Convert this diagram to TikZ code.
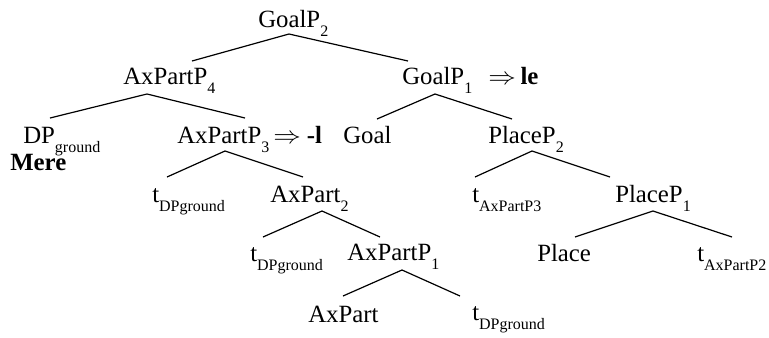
\documentclass[tikz,border=0pt]{standalone}
\usepackage{fontspec}
\setmainfont{Liberation Serif}
\newcommand\sbs[1]{\raisebox{-6.75pt}{\fontsize{12}{12}\selectfont #1}}
\newcommand\impl{\scalebox{1.2}[1.05]{$\Rightarrow$}}
\begin{document}
\begin{tikzpicture}[x=0.75pt,y=-0.75pt,
  lab/.style={anchor=base west,inner sep=0pt,font=\fontsize{18.6}{22}\selectfont},
  edge/.style={line width=0.9pt}]
\useasboundingbox (0,0) rectangle (769,337);
% row 1
\node[lab] (goalp2) at (258,27) {GoalP\sbs{2}};
% row 2
\node[lab] (axpartp4) at (123,84) {AxPartP\sbs{4}};
\node[lab] (goalp1) at (402,84) {GoalP\sbs{1}};
\node[lab] (le) at (488,84) {\impl\hspace{3.5pt}\textbf{le}};
% row 3
\node[lab] (dp) at (23,143) {DP\sbs{ground}};
\node[lab] (mere) at (10,170) {\textbf{Mere}};
\node[lab] (axpartp3) at (177,143) {AxPartP\sbs{3}};
\node[lab] (l) at (273,143) {\impl\hspace{4.5pt}\textbf{-l}};
\node[lab] (goal) at (343,143) {Goal};
\node[lab] (placep2) at (488,143) {PlaceP\sbs{2}};
% row 4
\node[lab] (t1) at (152,202) {t\sbs{DPground}};
\node[lab] (axpart2) at (270,202) {AxPart\sbs{2}};
\node[lab] (t3) at (472,202) {t\sbs{AxPartP3}};
\node[lab] (placep1) at (615,202) {PlaceP\sbs{1}};
% row 5
\node[lab] (t2) at (250,261) {t\sbs{DPground}};
\node[lab] (axpartp1) at (347,260) {AxPartP\sbs{1}};
\node[lab] (place) at (537,261) {Place};
\node[lab] (t4) at (697,261) {t\sbs{AxPartP2}};
% row 6
\node[lab] (axpart) at (308,322) {AxPart};
\node[lab] (t5) at (472,320) {t\sbs{DPground}};
% attachment points
\coordinate (goalp2-a) at (289,34);
\coordinate (axpartp4-t) at (192,61);
\coordinate (goalp1-t) at (408,61);
\coordinate (axpartp4-a) at (147,94);
\coordinate (dp-t) at (50,118);
\coordinate (axpartp3-t) at (245,118);
\coordinate (goalp1-a) at (435,94);
\coordinate (goal-t) at (377,119);
\coordinate (placep2-t) at (512,119);
\coordinate (axpartp3-a) at (225,151);
\coordinate (t1-t) at (167,177);
\coordinate (axpart2-t) at (303,177);
\coordinate (placep2-a) at (532,151);
\coordinate (t3-t) at (475,177);
\coordinate (placep1-t) at (610,177);
\coordinate (axpart2-a) at (322,211);
\coordinate (t2-t) at (263,237);
\coordinate (axpartp1-t) at (380,237);
\coordinate (placep1-a) at (653,211);
\coordinate (place-t) at (575,237);
\coordinate (t4-t) at (732,237);
\coordinate (axpartp1-a) at (402,270);
\coordinate (axpart-t) at (343,296);
\coordinate (t5-t) at (460,296);
% edges
\draw[edge] (axpartp4-t) -- (goalp2-a) -- (goalp1-t);
\draw[edge] (dp-t) -- (axpartp4-a) -- (axpartp3-t);
\draw[edge] (goal-t) -- (goalp1-a) -- (placep2-t);
\draw[edge] (t1-t) -- (axpartp3-a) -- (axpart2-t);
\draw[edge] (t3-t) -- (placep2-a) -- (placep1-t);
\draw[edge] (t2-t) -- (axpart2-a) -- (axpartp1-t);
\draw[edge] (place-t) -- (placep1-a) -- (t4-t);
\draw[edge] (axpart-t) -- (axpartp1-a) -- (t5-t);
\end{tikzpicture}
\end{document}
